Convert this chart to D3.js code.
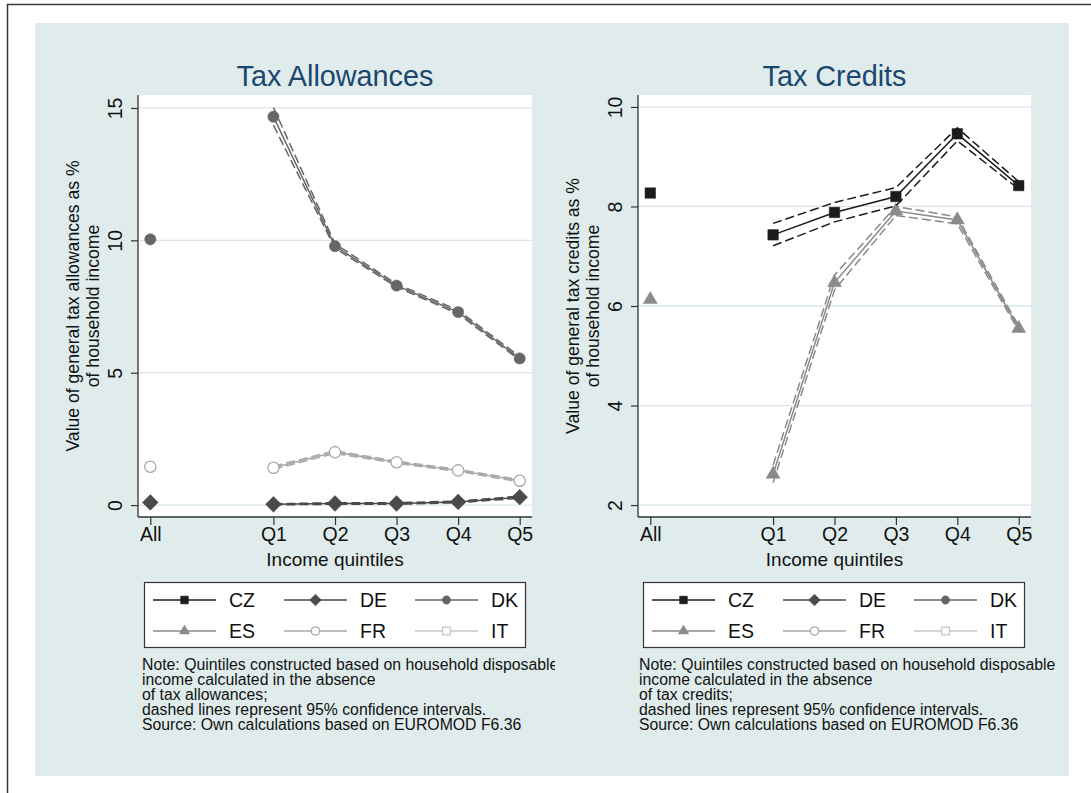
<!DOCTYPE html>
<html>
<head>
<meta charset="utf-8">
<script src="https://cdn.jsdelivr.net/npm/d3@7"></script>
<style>
  html, body { margin: 0; padding: 0; background: #ffffff; }
  svg { display: block; font-family: "Liberation Sans", Arial, Helvetica, sans-serif; }
</style>
</head>
<body>
<svg id="chart" width="1091" height="793"></svg>
<script>
// Income groups along the x axis (position 1 is left empty as a gap)
const groupLabels = ["All", "Q1", "Q2", "Q3", "Q4", "Q5"];
const groupPos = [0, 2, 3, 4, 5, 6];

// Legend entries
const countries = ["CZ", "DE", "DK", "ES", "FR", "IT"];

// Tax allowances, % of household income (All, Q1..Q5)
const allowDE = [0.10, 0.03, 0.06, 0.06, 0.12, 0.30];
const allowDELow = [null, 0.01, 0.03, 0.03, 0.09, 0.26];
const allowDEHigh = [null, 0.05, 0.09, 0.09, 0.15, 0.34];
const allowDK = [10.04, 14.67, 9.78, 8.29, 7.29, 5.54];
const allowDKLow = [null, 14.35, 9.70, 8.24, 7.22, 5.48];
const allowDKHigh = [null, 15.02, 9.87, 8.35, 7.36, 5.61];
const allowFR = [1.45, 1.41, 2.00, 1.62, 1.31, 0.92];
const allowFRLow = [null, 1.35, 1.95, 1.58, 1.27, 0.88];
const allowFRHigh = [null, 1.47, 2.05, 1.66, 1.35, 0.96];

// Tax credits, % of household income (All, Q1..Q5)
const creditCZ = [8.27, 7.43, 7.88, 8.20, 9.46, 8.42];
const creditCZLow = [null, 7.21, 7.69, 8.01, 9.32, 8.35];
const creditCZHigh = [null, 7.66, 8.08, 8.38, 9.58, 8.50];
const creditES = [6.13, 2.62, 6.47, 7.91, 7.73, 5.55];
const creditESLow = [null, 2.45, 6.32, 7.82, 7.65, 5.50];
const creditESHigh = [null, 2.80, 6.62, 8.00, 7.79, 5.60];

// Axis ticks
const allowTicks = [0, 5, 10, 15];
const creditTicks = [2, 4, 6, 8, 10];

// Series styling
const styles = {
  CZ: { color: "#1c1c1c", marker: "square", fill: true },
  DE: { color: "#4a4a4a", marker: "diamond", fill: true },
  DK: { color: "#666666", marker: "circle", fill: true },
  ES: { color: "#8a8a8a", marker: "triangle", fill: true },
  FR: { color: "#a8a8a8", marker: "circle", fill: false },
  IT: { color: "#c6c6c6", marker: "square", fill: false }
};

const panels = [
  {
    title: "Tax Allowances",
    ytitle: ["Value of general tax allowances as %", "of household income"],
    left: 138, right: 532, top: 95, bottom: 517,
    ydomain: [-0.45, 15.49], ticks: allowTicks,
    series: [
      { name: "FR", values: allowFR, low: allowFRLow, high: allowFRHigh },
      { name: "DE", values: allowDE, low: allowDELow, high: allowDEHigh },
      { name: "DK", values: allowDK, low: allowDKLow, high: allowDKHigh }
    ],
    legendX: 144, noteX: 142, noteClip: [35, 555],
    note: ["Note: Quintiles constructed based on household disposable",
           "income calculated in the absence",
           "of tax allowances;",
           "dashed lines represent 95% confidence intervals.",
           "Source: Own calculations based on EUROMOD F6.36"]
  },
  {
    title: "Tax Credits",
    ytitle: ["Value of general tax credits as %", "of household income"],
    left: 638, right: 1031, top: 95, bottom: 517,
    ydomain: [1.76, 10.24], ticks: creditTicks,
    series: [
      { name: "ES", values: creditES, low: creditESLow, high: creditESHigh },
      { name: "CZ", values: creditCZ, low: creditCZLow, high: creditCZHigh }
    ],
    legendX: 643, noteX: 639, noteClip: [560, 1069],
    note: ["Note: Quintiles constructed based on household disposable",
           "income calculated in the absence",
           "of tax credits;",
           "dashed lines represent 95% confidence intervals.",
           "Source: Own calculations based on EUROMOD F6.36"]
  }
];

const svg = d3.select("#chart");

// Outer frame and graph background
svg.append("rect").attr("x", 7.5).attr("y", 4.5).attr("width", 1200).attr("height", 900)
  .attr("fill", "#ffffff").attr("stroke", "#3a3a3a").attr("stroke-width", 1.5);
svg.append("rect").attr("x", 35).attr("y", 23).attr("width", 1034).attr("height", 753)
  .attr("fill", "#e0ecec");

const defs = svg.append("defs");

// Marker shapes; the diamond is a square turned by 45 degrees
function markerPath(type, size) {
  if (type === "diamond") {
    const r = Math.sqrt(size) * 0.72;
    return `M0,${-r}L${r},0L0,${r}L${-r},0Z`;
  }
  const sym = { square: d3.symbolSquare, circle: d3.symbolCircle, triangle: d3.symbolTriangle }[type];
  return d3.symbol().type(sym).size(size)();
}

function drawMarker(g, type, x, y, size, color, filled) {
  g.append("path")
    .attr("d", markerPath(type, size))
    .attr("transform", `translate(${x},${y})`)
    .attr("fill", filled ? color : "#ffffff")
    .attr("stroke", color)
    .attr("stroke-width", filled ? 0.5 : 1.3);
}

const markerSize = { square: 110, diamond: 120, circle: 100, triangle: 85 };

panels.forEach((p, pi) => {
  const g = svg.append("g");
  const x = d3.scaleLinear().domain([-0.2, 6.2]).range([p.left, p.right]);
  const y = d3.scaleLinear().domain(p.ydomain).range([p.bottom, p.top]);

  // plot region
  g.append("rect").attr("x", p.left).attr("y", p.top)
    .attr("width", p.right - p.left).attr("height", p.bottom - p.top).attr("fill", "#ffffff");

  // gridlines
  g.selectAll(".grid").data(p.ticks).join("line")
    .attr("x1", p.left).attr("x2", p.right)
    .attr("y1", d => y(d)).attr("y2", d => y(d))
    .attr("stroke", "#d7e7e9").attr("stroke-width", 1.3);

  // y axis
  const yAxis = g.append("g").attr("transform", `translate(${p.left},0)`)
    .call(d3.axisLeft(y).tickValues(p.ticks).tickSize(7).tickPadding(0).tickFormat(d3.format("d")));
  yAxis.select(".domain").attr("d", `M0,${p.top}V${p.bottom}`).attr("stroke", "#333").attr("stroke-width", 1.3);
  yAxis.selectAll(".tick line").attr("stroke", "#333").attr("stroke-width", 1.2);
  yAxis.selectAll(".tick text")
    .attr("font-size", 19.5).attr("fill", "#111")
    .attr("text-anchor", "middle")
    .attr("x", 0).attr("y", 0).attr("dy", null)
    .attr("transform", "translate(-16,0) rotate(-90)");

  // x axis
  const xAxis = g.append("g").attr("transform", `translate(0,${p.bottom})`)
    .call(d3.axisBottom(x).tickValues(groupPos).tickSize(8).tickPadding(2)
      .tickFormat((d, i) => groupLabels[i]));
  xAxis.select(".domain").attr("d", `M${p.left},0H${p.right}`).attr("stroke", "#333").attr("stroke-width", 1.3);
  xAxis.selectAll(".tick line").attr("stroke", "#333").attr("stroke-width", 1.2);
  xAxis.selectAll(".tick text").attr("font-size", 19.5).attr("fill", "#111");

  // axis titles
  g.append("text").attr("x", (p.left + p.right) / 2).attr("y", 566)
    .attr("text-anchor", "middle").attr("font-size", 19).attr("fill", "#111").text("Income quintiles");
  const cy = (p.top + p.bottom) / 2;
  p.ytitle.forEach((t, i) => {
    g.append("text")
      .attr("transform", `translate(${p.left - 59 + i * 20},${cy}) rotate(-90)`)
      .attr("text-anchor", "middle").attr("font-size", 17.6).attr("fill", "#111").text(t);
  });

  // panel title
  g.append("text").attr("x", (p.left + p.right) / 2).attr("y", 86)
    .attr("text-anchor", "middle").attr("font-size", 28.8).attr("fill", "#1a476f").text(p.title);

  // series
  const line = d3.line().defined(d => d.v != null).x(d => x(d.x)).y(d => y(d.v));
  p.series.forEach(s => {
    const st = styles[s.name];
    const q = (arr) => arr.map((v, i) => ({ x: groupPos[i], v: v })).slice(1);
    [s.low, s.high].forEach(arr => {
      g.append("path").datum(q(arr)).attr("d", line)
        .attr("fill", "none").attr("stroke", st.color).attr("stroke-width", 1.5)
        .attr("stroke-dasharray", "9,4");
    });
    g.append("path").datum(q(s.values)).attr("d", line)
      .attr("fill", "none").attr("stroke", st.color).attr("stroke-width", 1.5);
    s.values.forEach((v, i) => drawMarker(g, st.marker, x(groupPos[i]), y(v), markerSize[st.marker], st.color, st.fill));
  });

  // legend
  const lx = p.legendX;
  g.append("rect").attr("x", lx + 0.5).attr("y", 582.5).attr("width", 381).attr("height", 65)
    .attr("fill", "#ffffff").attr("stroke", "#333").attr("stroke-width", 1.2);
  countries.forEach((c, i) => {
    const st = styles[c];
    const col = i % 3, row = Math.floor(i / 3);
    const x0 = lx + 9 + col * 131;
    const yy = 600 + row * 31;
    g.append("line").attr("x1", x0).attr("x2", x0 + 63).attr("y1", yy).attr("y2", yy)
      .attr("stroke", st.color).attr("stroke-width", 1.5);
    drawMarker(g, st.marker, x0 + 31.5, yy, markerSize[st.marker] * 0.55, st.color, st.fill);
    g.append("text").attr("x", x0 + 76).attr("y", yy + 7).attr("font-size", 19.5).attr("fill", "#111").text(c);
  });

  // note: one text block, one tspan per line
  const clipId = "noteclip" + pi;
  defs.append("clipPath").attr("id", clipId).append("rect")
    .attr("x", p.noteClip[0]).attr("y", 640).attr("width", p.noteClip[1] - p.noteClip[0]).attr("height", 120);
  const noteText = g.append("g").attr("clip-path", `url(#${clipId})`)
    .append("text").attr("font-size", 15.8).attr("fill", "#111");
  p.note.forEach((t, i) => {
    noteText.append("tspan").attr("x", p.noteX).attr("y", 670 + i * 14.9).text(t);
  });
});
</script>
</body>
</html>
